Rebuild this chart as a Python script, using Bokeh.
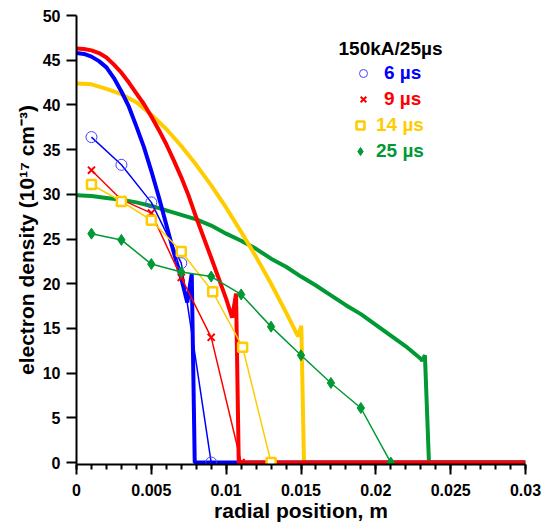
from bokeh.plotting import figure
from bokeh.models import Range1d, FixedTicker, Label, Legend, LegendItem
from bokeh.embed import file_html
from bokeh.resources import INLINE

FONT = "Liberation Sans"
BLUE = "#0000FF"
RED = "#FF0000"
YELLOW = "#FFCC00"
GREEN = "#009933"

# ---- simulated profiles (thick curves) ----
sim_6_x = [0, 0.0005, 0.001, 0.0015, 0.002, 0.0025, 0.003, 0.0035, 0.004, 0.0045, 0.005,
           0.0055, 0.006, 0.0065, 0.007, 0.0074, 0.0077, 0.0079, 0.03]
sim_6_y = [45.8, 45.7, 45.4, 44.9, 44.2, 43.0, 41.5, 39.8, 37.6, 35.3, 32.6,
           29.7, 26.6, 23.5, 20.6, 17.9, 21.1, 0, 0]

sim_9_x = [0, 0.0005, 0.001, 0.0015, 0.002, 0.0025, 0.003, 0.0035, 0.004, 0.0045, 0.005,
           0.0055, 0.006, 0.0065, 0.007, 0.0075, 0.008, 0.009, 0.010, 0.0104, 0.01066,
           0.01084, 0.03]
sim_9_y = [46.3, 46.25, 46.1, 45.8, 45.3, 44.5, 43.6, 42.5, 41.3, 40.1, 38.7,
           37.2, 35.6, 33.8, 31.9, 29.8, 27.4, 22.9, 18.3, 16.2, 18.9,
           0, 0]

sim_14_x = [0, 0.001, 0.002, 0.003, 0.004, 0.005, 0.006, 0.007, 0.008, 0.009, 0.010,
            0.011, 0.012, 0.013, 0.014, 0.0148, 0.01502, 0.0152, 0.03]
sim_14_y = [42.4, 42.3, 41.8, 41.2, 40.3, 38.9, 37.3, 35.4, 33.3, 31.0, 28.5,
            25.8, 23.0, 20.0, 16.8, 14.1, 15.3, 0, 0]

sim_25_x = [0, 0.001, 0.002, 0.003, 0.004, 0.005, 0.006, 0.007, 0.008, 0.009, 0.010,
            0.011, 0.012, 0.013, 0.014, 0.015, 0.016, 0.017, 0.018, 0.019, 0.020,
            0.021, 0.022, 0.023, 0.0231, 0.02328, 0.02355, 0.03]
sim_25_y = [29.9, 29.8, 29.6, 29.4, 29.1, 28.7, 28.2, 27.7, 27.2, 26.5, 25.6,
            24.8, 23.9, 22.8, 21.9, 20.8, 19.8, 18.7, 17.6, 16.6, 15.4,
            14.2, 13.0, 11.6, 11.4, 12.0, 0, 0]

# ---- measured profiles (thin lines with markers) ----
meas_6_x = [0.001, 0.003, 0.005, 0.007, 0.009]
meas_6_y = [36.4, 33.3, 29.1, 22.3, 0]

meas_9_x = [0.001, 0.003, 0.005, 0.007, 0.009, 0.011]
meas_9_y = [32.7, 29.4, 27.9, 20.7, 14.0, 0]

meas_14_x = [0.001, 0.003, 0.005, 0.007, 0.0091, 0.0111, 0.013]
meas_14_y = [31.1, 29.2, 27.1, 23.6, 19.1, 12.9, 0]

meas_25_x = [0.001, 0.003, 0.005, 0.007, 0.009, 0.011, 0.013, 0.015, 0.017, 0.019, 0.021]
meas_25_y = [25.6, 24.9, 22.2, 21.3, 20.8, 18.8, 15.2, 12.0, 8.9, 6.1, 0]

x_ticks = [0, 0.005, 0.01, 0.015, 0.02, 0.025, 0.03]
x_tick_labels = ["0", "0.005", "0.01", "0.015", "0.02", "0.025", "0.03"]
x_minor = [i / 1000 for i in range(0, 31)]
y_ticks = [0, 5, 10, 15, 20, 25, 30, 35, 40, 45, 50]

legend_title = "150kA/25\u00b5s"
labels = ["6 \u00b5s", "9 \u00b5s", "14 \u00b5s", "25 \u00b5s"]

p = figure(frame_width=449, frame_height=449,
           min_border_left=76, min_border_right=18, min_border_top=15, min_border_bottom=61,
           x_range=Range1d(0, 0.03), y_range=Range1d(-0.22, 50),
           output_backend="svg", toolbar_location=None)
p.outline_line_color = None
p.xgrid.visible = False
p.ygrid.visible = False
p.background_fill_color = "white"
p.border_fill_color = "white"

# thick simulation curves
p.line(sim_25_x, sim_25_y, color=GREEN, line_width=4)
p.line(sim_14_x, sim_14_y, color=YELLOW, line_width=4)
p.line(sim_6_x, sim_6_y, color=BLUE, line_width=4)
p.line(sim_9_x, sim_9_y, color=RED, line_width=4)

# measured curves
p.line(meas_6_x, meas_6_y, color=BLUE, line_width=1.5)
r6 = p.scatter(meas_6_x, meas_6_y, marker="circle", size=11, line_color="#4444FF",
               line_width=1, fill_alpha=0)
p.line(meas_9_x, meas_9_y, color=RED, line_width=1.5)
r9 = p.scatter(meas_9_x, meas_9_y, marker="x", size=10, line_color=RED, line_width=2)
p.line(meas_14_x, meas_14_y, color=YELLOW, line_width=1.5)
r14 = p.scatter(meas_14_x, meas_14_y, marker="square", size=9, line_color=YELLOW,
                line_width=2.5, fill_color="white")
p.line(meas_25_x, meas_25_y, color=GREEN, line_width=1.5)
r25 = p.scatter(meas_25_x, meas_25_y, marker="diamond", size=11, color=GREEN)

# axes
for ax in (p.xaxis[0], p.yaxis[0]):
    ax.axis_line_width = 2
    ax.axis_line_color = "black"
    ax.major_tick_line_width = 2
    ax.major_tick_in = 0
    ax.major_tick_out = 10
    ax.major_label_text_font = FONT
    ax.major_label_text_font_style = "bold"
    ax.major_label_text_font_size = "16px"
    ax.major_label_text_color = "black"
    ax.axis_label_text_font = FONT
    ax.axis_label_text_font_style = "bold"
    ax.axis_label_text_font_size = "21px"
    ax.axis_label_text_color = "black"

p.xaxis.ticker = FixedTicker(ticks=x_ticks, minor_ticks=x_minor)
p.xaxis.major_label_overrides = {t: s for t, s in zip(x_ticks, x_tick_labels)}
p.xaxis.minor_tick_in = 0
p.xaxis.minor_tick_out = 5
p.xaxis.minor_tick_line_width = 2
p.xaxis.major_label_standoff = 9
p.xaxis.axis_label = "radial position, m"
p.xaxis.axis_label_standoff = 0

p.yaxis.ticker = FixedTicker(ticks=y_ticks)
p.yaxis.minor_tick_line_color = None
p.yaxis.major_label_standoff = 6
p.yaxis.axis_label = "electron density (10\u00b9\u2077 cm\u207b\u00b3)"
p.yaxis.axis_label_standoff = 2

# legend
p.add_layout(Label(x=314, y=416, x_units="screen", y_units="screen", text=legend_title,
                   text_align="center", text_baseline="middle", text_font=FONT,
                   text_font_style="bold", text_font_size="19px", text_color="black"))

leg_specs = [(r6, labels[0], BLUE, 277, 380, 11),
             (r9, labels[1], RED, 277, 354, 11),
             (r14, labels[2], YELLOW, 274, 328, 6),
             (r25, labels[3], GREEN, 274, 302, 6)]
for r, lab, col, lx, ly, so in leg_specs:
    leg = Legend(items=[LegendItem(label=lab, renderers=[r])], location=(lx, ly),
                 label_text_color=col, label_text_font=FONT, label_text_font_style="bold",
                 label_text_font_size="19px", glyph_width=20, glyph_height=20,
                 label_height=20, label_standoff=so, padding=0, margin=0, spacing=0,
                 border_line_color=None, background_fill_alpha=0)
    p.add_layout(leg)

open("out.html", "w").write(file_html(p, INLINE))
